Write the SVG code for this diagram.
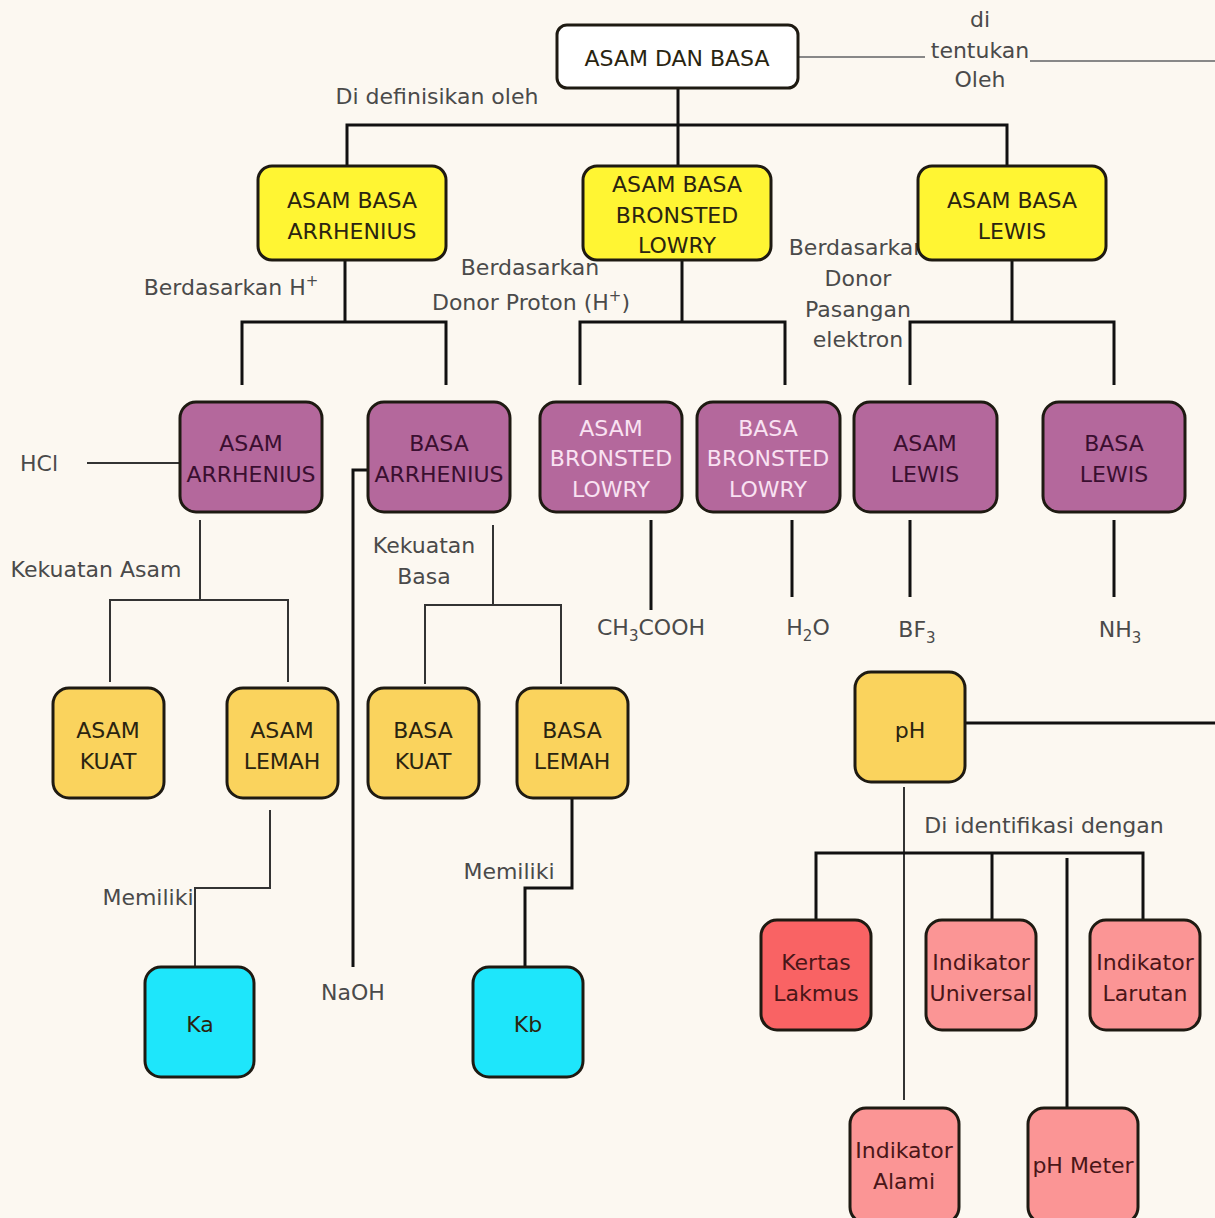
<svg xmlns="http://www.w3.org/2000/svg" width="1215" height="1218" viewBox="0 0 1215 1218">
<style>
text{font-family:"DejaVu Sans",sans-serif;text-anchor:middle}
.bt{font-size:22px;fill:#2a2410}
.lb{font-size:22px;fill:#4a4a4a}
.box{stroke:#1e1a12;stroke-width:3}
.root{fill:#ffffff}
.yel{fill:#fff533}
.pur{fill:#b4689c}
.org{fill:#fad35d}
.cy{fill:#1ee6fb}
.red{fill:#f96364}
.pk{fill:#fb9595}
.dk{fill:#3a0f30}
.wt{fill:#f9e2f2}
.pkt{fill:#4a1618}
.cn{fill:none;stroke:#111;stroke-width:3}
.cn2{fill:none;stroke:#333;stroke-width:2}
.cn3{fill:none;stroke:#888;stroke-width:2}
</style>
<rect width="1215" height="1218" fill="#fcf8f1"/>
<g id="connectors">
<path class="cn3" d="M798 57H925M1030 61H1215"/>
<path class="cn" d="M678 88V125M347 167V125H1007V167M678 125V167"/>
<path class="cn" d="M345 260V322M242 385V322H446V385"/>
<path class="cn" d="M682 260V322M580 385V322H785V385"/>
<path class="cn" d="M1012 260V322M910 385V322H1114V385"/>
<path class="cn2" d="M87 463H180"/>
<path class="cn" d="M368 470H353V967"/>
<path class="cn2" d="M200 520V600M110 682V600H288V682"/>
<path class="cn2" d="M493 525V605M425 684V605H561V684"/>
<path class="cn2" d="M270 810V888H195V967"/>
<path class="cn" d="M572 798V888H525V967"/>
<path class="cn" d="M651 520V610M792 520V597M910 520V597M1114 520V597"/>
<path class="cn" d="M965 723H1215"/>
<path class="cn2" d="M904 787V1100"/>
<path class="cn" d="M816 920V853H1143V920M992 853V920M1067 858V1107"/>
</g>
<g id="labels">
<text class="lb" x="980" y="27">di</text>
<text class="lb" x="980" y="58">tentukan</text>
<text class="lb" x="980" y="87">Oleh</text>
<text class="lb" x="437" y="104">Di definisikan oleh</text>
<text class="lb" x="231" y="295">Berdasarkan H<tspan font-size="15" dy="-9">+</tspan></text>
<text class="lb" x="530" y="275">Berdasarkan</text>
<text class="lb" x="531" y="310">Donor Proton (H<tspan font-size="15" dy="-9">+</tspan><tspan dy="9">)</tspan></text>
<text class="lb" x="858" y="255">Berdasarkan</text>
<text class="lb" x="858" y="286">Donor</text>
<text class="lb" x="858" y="317">Pasangan</text>
<text class="lb" x="858" y="347">elektron</text>
<text class="lb" x="39" y="471">HCl</text>
<text class="lb" x="96" y="577">Kekuatan Asam</text>
<text class="lb" x="424" y="553">Kekuatan</text>
<text class="lb" x="424" y="584">Basa</text>
<text class="lb" x="148" y="905">Memiliki</text>
<text class="lb" x="509" y="879">Memiliki</text>
<text class="lb" x="353" y="1000">NaOH</text>
<text class="lb" x="651" y="635">CH<tspan font-size="15" dy="6">3</tspan><tspan dy="-6">COOH</tspan></text>
<text class="lb" x="808" y="635">H<tspan font-size="15" dy="6">2</tspan><tspan dy="-6">O</tspan></text>
<text class="lb" x="917" y="637">BF<tspan font-size="15" dy="6">3</tspan></text>
<text class="lb" x="1120" y="637">NH<tspan font-size="15" dy="6">3</tspan></text>
<text class="lb" x="1044" y="833">Di identifikasi dengan</text>
</g>
<g id="n-root"><rect class="box root" x="557" y="25" width="241" height="63" rx="10"/><text class="bt" x="677" y="66">ASAM DAN BASA</text></g>
<g id="n-arrhenius"><rect class="box yel" x="258" y="166" width="188" height="94" rx="14"/><text class="bt" x="352" y="208">ASAM BASA</text><text class="bt" x="352" y="239">ARRHENIUS</text></g>
<g id="n-bronsted"><rect class="box yel" x="583" y="166" width="188" height="94" rx="14"/><text class="bt" x="677" y="192">ASAM BASA</text><text class="bt" x="677" y="223">BRONSTED</text><text class="bt" x="677" y="253">LOWRY</text></g>
<g id="n-lewis"><rect class="box yel" x="918" y="166" width="188" height="94" rx="14"/><text class="bt" x="1012" y="208">ASAM BASA</text><text class="bt" x="1012" y="239">LEWIS</text></g>
<g id="n-asam-arrhenius"><rect class="box pur" x="180" y="402" width="142" height="110" rx="16"/><text class="bt dk" x="251" y="451">ASAM</text><text class="bt dk" x="251" y="482">ARRHENIUS</text></g>
<g id="n-basa-arrhenius"><rect class="box pur" x="368" y="402" width="142" height="110" rx="16"/><text class="bt dk" x="439" y="451">BASA</text><text class="bt dk" x="439" y="482">ARRHENIUS</text></g>
<g id="n-asam-bronsted"><rect class="box pur" x="540" y="402" width="142" height="110" rx="16"/><text class="bt wt" x="611" y="436">ASAM</text><text class="bt wt" x="611" y="466">BRONSTED</text><text class="bt wt" x="611" y="497">LOWRY</text></g>
<g id="n-basa-bronsted"><rect class="box pur" x="697" y="402" width="143" height="110" rx="16"/><text class="bt wt" x="768" y="436">BASA</text><text class="bt wt" x="768" y="466">BRONSTED</text><text class="bt wt" x="768" y="497">LOWRY</text></g>
<g id="n-asam-lewis"><rect class="box pur" x="854" y="402" width="143" height="110" rx="16"/><text class="bt dk" x="925" y="451">ASAM</text><text class="bt dk" x="925" y="482">LEWIS</text></g>
<g id="n-basa-lewis"><rect class="box pur" x="1043" y="402" width="142" height="110" rx="16"/><text class="bt dk" x="1114" y="451">BASA</text><text class="bt dk" x="1114" y="482">LEWIS</text></g>
<g id="n-asam-kuat"><rect class="box org" x="53" y="688" width="111" height="110" rx="16"/><text class="bt" x="108" y="738">ASAM</text><text class="bt" x="108" y="769">KUAT</text></g>
<g id="n-asam-lemah"><rect class="box org" x="227" y="688" width="111" height="110" rx="16"/><text class="bt" x="282" y="738">ASAM</text><text class="bt" x="282" y="769">LEMAH</text></g>
<g id="n-basa-kuat"><rect class="box org" x="368" y="688" width="111" height="110" rx="16"/><text class="bt" x="423" y="738">BASA</text><text class="bt" x="423" y="769">KUAT</text></g>
<g id="n-basa-lemah"><rect class="box org" x="517" y="688" width="111" height="110" rx="16"/><text class="bt" x="572" y="738">BASA</text><text class="bt" x="572" y="769">LEMAH</text></g>
<g id="n-ka"><rect class="box cy" x="145" y="967" width="109" height="110" rx="16"/><text class="bt" x="200" y="1032" fill="#0d3a44">Ka</text></g>
<g id="n-kb"><rect class="box cy" x="473" y="967" width="110" height="110" rx="16"/><text class="bt" x="528" y="1032">Kb</text></g>
<g id="n-ph"><rect class="box org" x="855" y="672" width="110" height="110" rx="16"/><text class="bt" x="910" y="738">pH</text></g>
<g id="n-kertas"><rect class="box red" x="761" y="920" width="110" height="110" rx="16"/><text class="bt pkt" x="816" y="970">Kertas</text><text class="bt pkt" x="816" y="1001">Lakmus</text></g>
<g id="n-universal"><rect class="box pk" x="926" y="920" width="110" height="110" rx="16"/><text class="bt pkt" x="981" y="970">Indikator</text><text class="bt pkt" x="981" y="1001">Universal</text></g>
<g id="n-larutan"><rect class="box pk" x="1090" y="920" width="110" height="110" rx="16"/><text class="bt pkt" x="1145" y="970">Indikator</text><text class="bt pkt" x="1145" y="1001">Larutan</text></g>
<g id="n-alami"><rect class="box pk" x="850" y="1108" width="109" height="115" rx="16"/><text class="bt pkt" x="904" y="1158">Indikator</text><text class="bt pkt" x="904" y="1189">Alami</text></g>
<g id="n-phmeter"><rect class="box pk" x="1028" y="1108" width="110" height="115" rx="16"/><text class="bt pkt" x="1083" y="1173">pH Meter</text></g>
</svg>
